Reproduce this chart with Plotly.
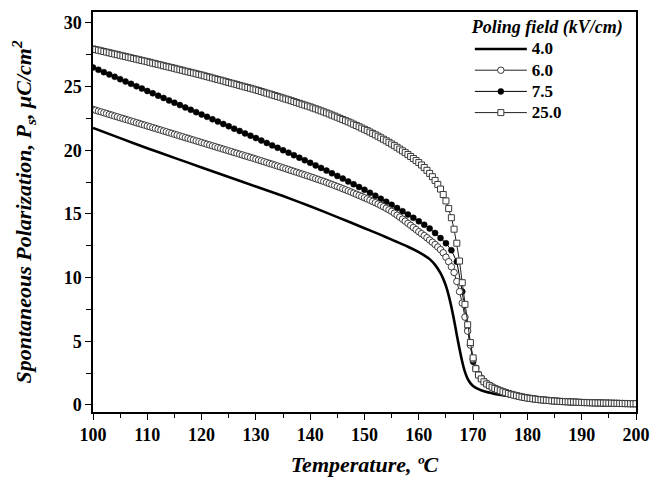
import plotly.graph_objects as go

# ---------------- data ----------------
# temperature grids (°C)
temp_half = [100 + 0.5 * i for i in range(201)]   # 100.0 ... 200.0
temp_one = list(range(100, 201))                   # 100 ... 200
temp_solid = [100, 105, 110, 115, 120, 125, 130, 135, 140, 145, 150, 152, 154, 156, 158,
              160, 161, 162, 163, 164, 164.5, 165, 165.5, 166, 166.5, 167, 167.5,
              168, 168.5, 169, 169.5, 170, 171, 172, 174, 176, 178, 180, 185,
              190, 195, 200]

# 4.0 kV/cm (solid line)
p_4_0 = [21.75, 20.95, 20.15, 19.4, 18.65, 17.9, 17.15, 16.4, 15.6, 14.75, 13.88, 13.53, 13.17, 12.8, 12.42,
         12.0, 11.75, 11.45, 11.0, 10.35, 9.9, 9.35, 8.6, 7.7, 6.65, 5.5, 4.4,
         3.4, 2.6, 2.05, 1.72, 1.5, 1.24, 1.07, 0.87, 0.72, 0.6, 0.5, 0.34,
         0.24, 0.17, 0.12]

# 6.0 kV/cm (open circles), 0.5 °C steps
p_6_0 = [
    23.20, 23.14, 23.07, 23.01, 22.94, 22.88, 22.81, 22.75, 22.68, 22.62,
    22.55, 22.49, 22.42, 22.36, 22.29, 22.23, 22.16, 22.10, 22.03, 21.97,
    21.90, 21.84, 21.77, 21.71, 21.64, 21.58, 21.51, 21.45, 21.38, 21.32,
    21.25, 21.19, 21.12, 21.06, 20.99, 20.93, 20.86, 20.80, 20.73, 20.67,
    20.60, 20.54, 20.47, 20.41, 20.34, 20.28, 20.21, 20.15, 20.08, 20.02,
    19.95, 19.89, 19.82, 19.76, 19.69, 19.63, 19.56, 19.50, 19.43, 19.37,
    19.30, 19.23, 19.17, 19.10, 19.03, 18.96, 18.90, 18.83, 18.76, 18.69,
    18.62, 18.55, 18.48, 18.41, 18.34, 18.27, 18.20, 18.13, 18.06, 17.99,
    17.92, 17.85, 17.77, 17.70, 17.62, 17.55, 17.47, 17.39, 17.31, 17.23,
    17.15, 17.07, 16.98, 16.90, 16.81, 16.72, 16.63, 16.54, 16.45, 16.36,
    16.27, 16.18, 16.08, 15.98, 15.88, 15.78, 15.67, 15.56, 15.44, 15.32,
    15.20, 15.05, 14.90, 14.75, 14.59, 14.43, 14.26, 14.10, 13.93, 13.77,
    13.60, 13.45, 13.30, 13.13, 12.95, 12.78, 12.60, 12.40, 12.20, 11.95,
    11.60, 11.25, 10.85, 10.40, 9.70, 8.90, 8.00, 6.90, 5.80, 4.70,
    3.60, 2.90, 2.40, 2.10, 1.85, 1.68, 1.54, 1.42, 1.31, 1.21,
    1.12, 1.04, 0.97, 0.90, 0.84, 0.78, 0.73, 0.68, 0.63, 0.59,
    0.55, 0.52, 0.49, 0.46, 0.43, 0.41, 0.39, 0.37, 0.35, 0.33,
    0.31, 0.30, 0.28, 0.27, 0.26, 0.25, 0.24, 0.23, 0.22, 0.21,
    0.20, 0.19, 0.19, 0.18, 0.17, 0.17, 0.16, 0.16, 0.15, 0.15,
    0.14, 0.14, 0.13, 0.13, 0.12, 0.12, 0.11, 0.11, 0.10, 0.10,
    0.10]

# 7.5 kV/cm (filled circles), 1 °C steps
p_7_5 = [
    26.50, 26.32, 26.13, 25.95, 25.76, 25.58, 25.39, 25.21, 25.02, 24.84,
    24.65, 24.47, 24.28, 24.10, 23.91, 23.73, 23.54, 23.36, 23.17, 22.99,
    22.80, 22.62, 22.43, 22.25, 22.06, 21.88, 21.69, 21.51, 21.32, 21.14,
    20.95, 20.76, 20.57, 20.38, 20.19, 20.00, 19.81, 19.61, 19.41, 19.21,
    19.01, 18.81, 18.61, 18.40, 18.19, 17.98, 17.77, 17.55, 17.33, 17.11,
    16.89, 16.66, 16.43, 16.19, 15.95, 15.71, 15.46, 15.21, 14.95, 14.69,
    14.42, 14.15, 13.85, 13.50, 13.10, 12.70, 12.15, 11.25, 8.90, 5.90,
    3.40, 2.40, 1.85, 1.54, 1.31, 1.12, 0.97, 0.84, 0.73, 0.63,
    0.55, 0.49, 0.43, 0.39, 0.35, 0.31, 0.28, 0.26, 0.24, 0.22,
    0.20, 0.19, 0.17, 0.16, 0.15, 0.14, 0.13, 0.12, 0.11, 0.10,
    0.10]

# 25.0 kV/cm (open squares), 0.5 °C steps
p_25_0 = [
    27.95, 27.90, 27.85, 27.80, 27.75, 27.70, 27.65, 27.60, 27.55, 27.50,
    27.45, 27.40, 27.35, 27.30, 27.25, 27.20, 27.15, 27.10, 27.05, 27.00,
    26.95, 26.90, 26.84, 26.79, 26.74, 26.69, 26.63, 26.58, 26.53, 26.48,
    26.43, 26.37, 26.32, 26.27, 26.21, 26.16, 26.11, 26.06, 26.00, 25.95,
    25.90, 25.84, 25.78, 25.73, 25.67, 25.61, 25.55, 25.50, 25.44, 25.38,
    25.32, 25.26, 25.21, 25.15, 25.09, 25.03, 24.97, 24.92, 24.86, 24.80,
    24.74, 24.68, 24.61, 24.55, 24.48, 24.42, 24.35, 24.29, 24.22, 24.16,
    24.09, 24.02, 23.96, 23.89, 23.82, 23.75, 23.68, 23.61, 23.54, 23.47,
    23.40, 23.32, 23.25, 23.17, 23.09, 23.01, 22.93, 22.85, 22.76, 22.68,
    22.59, 22.50, 22.41, 22.32, 22.23, 22.14, 22.04, 21.94, 21.84, 21.74,
    21.64, 21.54, 21.43, 21.32, 21.21, 21.10, 20.98, 20.86, 20.74, 20.62,
    20.49, 20.36, 20.23, 20.09, 19.95, 19.81, 19.66, 19.51, 19.35, 19.19,
    19.03, 18.84, 18.64, 18.42, 18.18, 17.92, 17.63, 17.31, 16.95, 16.52,
    16.02, 15.42, 14.70, 13.80, 12.70, 11.30, 9.60, 7.90, 6.30, 4.90,
    3.70, 2.85, 2.35, 2.05, 1.82, 1.65, 1.52, 1.40, 1.30, 1.20,
    1.12, 1.04, 0.97, 0.90, 0.84, 0.78, 0.73, 0.68, 0.63, 0.59,
    0.55, 0.52, 0.49, 0.46, 0.43, 0.41, 0.39, 0.37, 0.35, 0.33,
    0.31, 0.30, 0.28, 0.27, 0.26, 0.25, 0.24, 0.23, 0.22, 0.21,
    0.20, 0.19, 0.19, 0.18, 0.17, 0.17, 0.16, 0.16, 0.15, 0.15,
    0.14, 0.14, 0.13, 0.13, 0.12, 0.12, 0.11, 0.11, 0.10, 0.10,
    0.10]

series_names = ["4.0", "6.0", "7.5", "25.0"]
x_tick_vals = [100, 110, 120, 130, 140, 150, 160, 170, 180, 190, 200]
y_tick_vals = [0, 5, 10, 15, 20, 25, 30]

# ---------------- figure ----------------
FONT = "Liberation Serif"


def legend_label(s):
    return "<span style='font-size:17px'>" + s + "</span>"


fig = go.Figure()

fig.add_trace(go.Scatter(
    x=temp_solid, y=p_4_0, name=legend_label(series_names[0]), mode="lines",
    line=dict(color="black", width=2.6, shape="spline", smoothing=0.5),
    legendrank=1))

fig.add_trace(go.Scatter(
    x=temp_one, y=p_7_5, name=legend_label(series_names[2]), mode="lines+markers",
    line=dict(color="black", width=1),
    marker=dict(symbol="circle", size=6, color="black",
                line=dict(color="black", width=0.5)),
    legendrank=3))

fig.add_trace(go.Scatter(
    x=temp_half, y=p_6_0, name=legend_label(series_names[1]), mode="lines+markers",
    line=dict(color="#222", width=1),
    marker=dict(symbol="circle", size=6.5, color="white",
                line=dict(color="#3a3a3a", width=1)),
    legendrank=2))

fig.add_trace(go.Scatter(
    x=temp_half, y=p_25_0, name=legend_label(series_names[3]), mode="lines+markers",
    line=dict(color="#222", width=1),
    marker=dict(symbol="square", size=6, color="white",
                line=dict(color="#3a3a3a", width=1)),
    legendrank=4))

fig.update_layout(
    width=664, height=478,
    margin=dict(l=93, r=28, t=10, b=66),
    paper_bgcolor="white", plot_bgcolor="white",
    font=dict(family=FONT, color="black"),
    showlegend=True,
    legend=dict(
        x=0.694, y=1.005, xanchor="left", yanchor="top",
        bgcolor="rgba(0,0,0,0)",
        font=dict(family=FONT, size=14, weight="bold"),
        title=dict(text="Poling field (kV/cm)", side="top",
                   font=dict(family=FONT, size=18, weight="bold", style="italic")),
        tracegroupgap=0, itemwidth=52,
    ),
)

fig.update_xaxes(
    range=[100, 200], tickvals=x_tick_vals, automargin=False,
    showgrid=False, zeroline=False,
    showline=True, linecolor="black", linewidth=1.5, mirror=True,
    ticks="outside", ticklen=6, tickwidth=1.3, tickcolor="black",
    minor=dict(dtick=5, ticks="outside", ticklen=4, tickwidth=1.2, tickcolor="black"),
    tickfont=dict(family=FONT, size=18, weight="bold"),
    title=dict(text="Temperature, ºC", standoff=12,
               font=dict(family=FONT, size=22, weight="bold", style="italic")),
)

fig.update_yaxes(
    range=[-0.55, 30.85], tickvals=y_tick_vals, automargin=False,
    showgrid=False, zeroline=False,
    showline=True, linecolor="black", linewidth=1.5, mirror=True,
    ticks="outside", ticklen=6, tickwidth=1.3, tickcolor="black",
    minor=dict(dtick=2.5, ticks="outside", ticklen=5, tickwidth=1.2, tickcolor="black"),
    tickfont=dict(family=FONT, size=18, weight="bold"),
    title=dict(text="Spontaneous Polarization, P<sub>s</sub>, μC/cm<sup>2</sup>", standoff=26,
               font=dict(family=FONT, size=22, weight="bold", style="italic")),
)

fig.write_html("out.html")
